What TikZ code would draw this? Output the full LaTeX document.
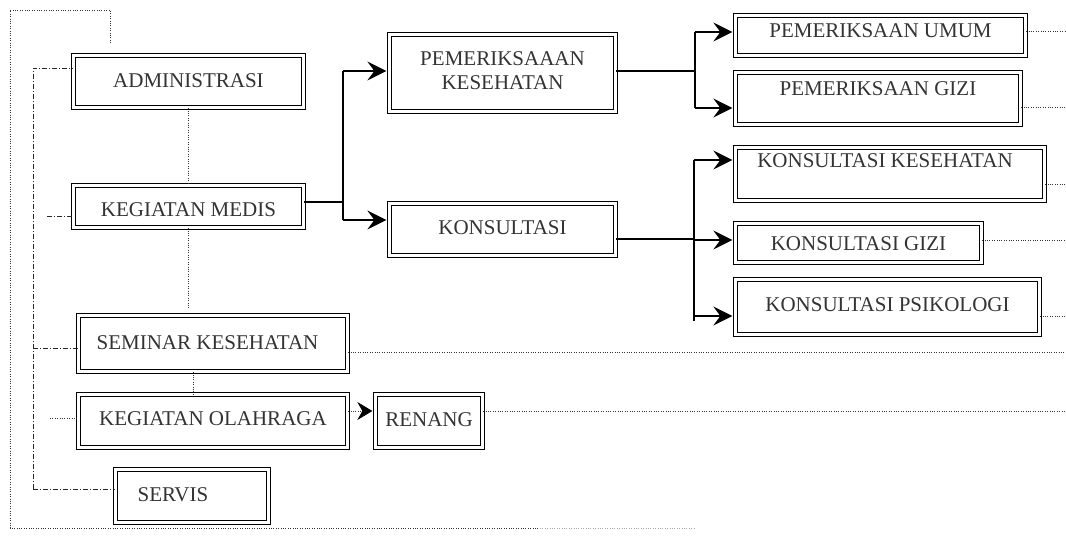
\documentclass[tikz,border=0pt]{standalone}
\usepackage{fontspec}
\setmainfont{Liberation Serif}
\usetikzlibrary{arrows.meta}
\begin{document}
\begin{tikzpicture}[x=1pt,y=-1pt]
\tikzset{
  box/.style={draw=black, double=white, double distance=2.6pt, line width=1.3pt,
    inner sep=0pt, font=\fontsize{21}{24}\selectfont, text=black!80,
    text height=14pt, text depth=0pt},
  nudge/.style={execute at end node={\hspace*{#1}}},
  link/.style={line width=1.2pt},
  arr/.style={line width=1.2pt, -{Stealth[length=19pt,width=19pt,inset=7pt]}, shorten >=2.5pt},
  dotline/.style={line width=0.8pt, black!80, dash pattern=on 0.9pt off 1.5pt},
  faintdot/.style={line width=0.6pt, black!35, dash pattern=on 0.9pt off 1.5pt},
  dashdot/.style={line width=0.8pt, black!85, dash pattern=on 5pt off 2pt on 1pt off 2pt},
  dotarr/.style={dotline, -{Stealth[length=15pt,width=18pt,inset=5pt,black]}, shorten >=2.5pt},
}
\useasboundingbox (0,0) rectangle (1066,544);

% left column
\node[box, minimum width=230pt, minimum height=52pt, text depth=3pt] (adm) at (188.5,81.5) {ADMINISTRASI};
\node[box, minimum width=230pt, minimum height=42pt, text height=19pt] (med) at (188.5,206.5) {KEGIATAN MEDIS};
\node[box, minimum width=269pt, minimum height=56pt, text depth=3pt, nudge=11pt] (sem) at (213,343.5) {SEMINAR KESEHATAN};
\node[box, minimum width=269pt, minimum height=53pt, text depth=6pt] (ola) at (213,421) {KEGIATAN OLAHRAGA};
\node[box, minimum width=153pt, minimum height=53pt, text depth=4pt, nudge=38pt] (ser) at (192,496) {SERVIS};

% middle column
\node[box, minimum width=226pt, minimum height=77pt, align=center, text height=38pt, text depth=6pt] (pk) at (502.5,73) {PEMERIKSAAAN\\KESEHATAN};
\node[box, minimum width=226pt, minimum height=52pt, text depth=5pt] (kon) at (502.5,229.5) {KONSULTASI};
\node[box, minimum width=107pt, minimum height=53pt, text depth=4pt] (ren) at (429,421) {RENANG};

% right column
\node[box, minimum width=290pt, minimum height=40pt, text depth=11pt] (pu) at (880.5,35.5) {PEMERIKSAAN UMUM};
\node[box, minimum width=285pt, minimum height=52pt, text depth=21pt] (pg) at (878,98.5) {PEMERIKSAAN GIZI};
\node[box, minimum width=309pt, minimum height=53pt, text depth=28pt, nudge=10pt] (kk) at (890,174) {KONSULTASI KESEHATAN};
\node[box, minimum width=246pt, minimum height=39pt] (kg) at (858.5,243) {KONSULTASI GIZI};
\node[box, minimum width=304pt, minimum height=55pt, text depth=6pt] (kp) at (887.5,307) {KONSULTASI PSIKOLOGI};

% branch: kegiatan medis
\coordinate (m0) at (343,202);
\coordinate (m1) at (343,71);
\coordinate (m2) at (343,220);
\draw[link] (m0 -| med.east) -- (m0);
\draw[link] (m1) -- (m2);
\draw[arr] (m1) -- (m1 -| pk.west);
\draw[arr] (m2) -- (m2 -| kon.west);

% branch: pemeriksaan
\coordinate (p0) at (695,71);
\coordinate (p1) at (695,32);
\coordinate (p2) at (695,108);
\draw[link] (p0 -| pk.east) -- (p0);
\draw[link] (p1) -- (p2);
\draw[arr] (p1) -- (p1 -| pu.west);
\draw[arr] (p2) -- (p2 -| pg.west);

% branch: konsultasi
\coordinate (k0) at (694,239);
\coordinate (k1) at (694,160);
\coordinate (k2) at (694,240);
\coordinate (k3) at (694,316);
\coordinate (k4) at (694,321);
\draw[link] (k0 -| kon.east) -- (k0);
\draw[link] (k1) -- (k4);
\draw[arr] (k1) -- (k1 -| kk.west);
\draw[arr] (k2) -- (k2 -| kg.west);
\draw[arr] (k3) -- (k3 -| kp.west);

% dotted leaders to the right edge
\coordinate (r1) at (1066,31);
\coordinate (r2) at (1066,107);
\coordinate (r3) at (1066,184);
\coordinate (r4) at (1066,240);
\coordinate (r5) at (1066,316);
\coordinate (r6) at (1066,352);
\coordinate (r7) at (1066,411);
\draw[dotline] (r1 -| pu.east) -- (r1);
\draw[dotline] (r2 -| pg.east) -- (r2);
\draw[dotline] (r3 -| kk.east) -- (r3);
\draw[dotline] (r4 -| kg.east) -- (r4);
\draw[dotline] (r5 -| kp.east) -- (r5);
\draw[dotline] (r6 -| sem.east) -- (r6);
\draw[dotline] (r7 -| ren.east) -- (r7);
\draw[dotarr] (r7 -| ola.east) -- (r7 -| ren.west);

% vertical dotted links in the left column
\coordinate (v1) at (188,0);
\coordinate (v2) at (188,309);
\coordinate (v3) at (193,0);
\draw[dotline] (v1 |- adm.south) -- (v1 |- med.north);
\draw[dotline] (v1 |- med.south) -- (v2);
\draw[dotline] (v3 |- sem.south) -- (v3 |- ola.north);

% dotted outer frame
\coordinate (f0) at (110,43);
\coordinate (f1) at (110,10);
\coordinate (f2) at (10,10);
\coordinate (f3) at (10,528);
\coordinate (f4) at (540,528);
\coordinate (f5) at (695,528);
\draw[dotline] (f0) -- (f1) -- (f2) -- (f3) -- (f4);
\draw[faintdot] (f4) -- (f5);

% dash-dot spine on the left
\coordinate (s0) at (33,68);
\coordinate (s1) at (33,489);
\coordinate (s2) at (47,216);
\coordinate (s3) at (33,348);
\coordinate (s4) at (50,418);
\draw[dashdot] (s1) -- (s0) -- (s0 -| adm.west);
\draw[dashdot] (s2) -- (s2 -| med.west);
\draw[dashdot] (s3) -- (s3 -| sem.west);
\draw[dotline] (s4) -- (s4 -| ola.west);
\draw[dashdot] (s1) -- (s1 -| ser.west);
\end{tikzpicture}
\end{document}
